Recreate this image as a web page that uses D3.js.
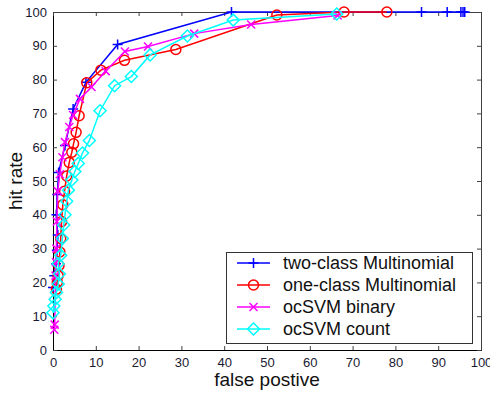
<!DOCTYPE html>
<html>
<head>
<meta charset="utf-8">
<script src="https://cdn.jsdelivr.net/npm/d3@7"></script>
<style>
  body { margin: 0; background: #fff; }
  text { font-family: Arial, "Liberation Sans", sans-serif; }
</style>
</head>
<body>
<div id="chart"></div>
<script>
// values (false positive %, hit rate %)
const blueFP = [0, 0.3, 0.7, 0.9, 1.1, 0.8, 1.0, 1.3, 2.8, 4.7, 7.7, 15.1, 41.7, 86.1, 92.1, 95.3, 95.8, 96.2]
const blueHR = [18.5, 22, 25.5, 29.5, 34, 40, 46, 52.5, 60.5, 71.3, 79.2, 90.4, 100, 100, 100, 100, 100, 100]

const redFP = [0.8, 1.0, 1.2, 1.4, 1.6, 1.8, 2.0, 2.3, 2.7, 3.2, 3.8, 4.4, 4.8, 5.4, 6.1, 7.9, 11.2, 16.7, 28.7, 52.3, 68, 78]
const redHR = [18, 20, 22, 25, 29, 33, 38, 43, 47, 51.5, 55.5, 58.5, 61, 64.4, 69.3, 79.1, 82.8, 85.7, 88.9, 99.1, 100, 100]

const magFP = [0.3, 0.4, 0.6, 0.7, 0.8, 0.9, 1.1, 1.6, 2.2, 2.8, 3.8, 4.7, 6.3, 9, 12.3, 16.8, 22.2, 33, 46.3, 66.5]
const magHR = [6, 7.5, 22, 26, 30, 38, 47, 52, 57, 61.5, 66, 69.5, 74.3, 77.8, 82.5, 88.3, 89.8, 93.6, 96.3, 99]

const cyanFP = [0, 0.2, 0.5, 0.8, 1.2, 1.5, 1.2, 1.8, 2.2, 2.5, 2.8, 3.2, 3.6, 4.4, 5.1, 5.9, 6.9, 8.5, 11, 14.4, 18.3, 22.7, 31.4, 42.1, 66.3]
const cyanHR = [11, 13, 15, 17, 19.5, 22.5, 25.5, 28, 33, 37, 40, 44, 47.3, 50.3, 52.8, 55.2, 58.3, 62, 70.8, 78.2, 80.9, 87.3, 92.9, 97.6, 99.4]

const seriesNames = ["two-class Multinomial", "one-class Multinomial", "ocSVM binary", "ocSVM count"]
const xTicks = [0, 10, 20, 30, 40, 50, 60, 70, 80, 90, 100]
const yTicks = [0, 10, 20, 30, 40, 50, 60, 70, 80, 90, 100]

const width = 490, height = 393
const margin = ({ top: 12, right: 9, bottom: 43, left: 53 })

const series = [
    { name: seriesNames[0], fp: blueFP, hr: blueHR, color: "#0000ff", marker: "plus" },
    { name: seriesNames[1], fp: redFP, hr: redHR, color: "#ff0000", marker: "circle" },
    { name: seriesNames[2], fp: magFP, hr: magHR, color: "#ff00ff", marker: "cross" },
    { name: seriesNames[3], fp: cyanFP, hr: cyanHR, color: "#00ffff", marker: "diamond" }
]

const svg = d3.select("#chart").append("svg")
    .attr("width", width)
    .attr("height", height)

const x = d3.scaleLinear().domain([0, 100]).range([margin.left, width - margin.right])
const y = d3.scaleLinear().domain([0, 100]).range([height - margin.bottom, margin.top])

// box with inward ticks, matlab style
svg.append("rect")
    .attr("x", x(0)).attr("y", y(100))
    .attr("width", x(100) - x(0)).attr("height", y(0) - y(100))
    .attr("fill", "none").attr("stroke", "#404040")
    .attr("shape-rendering", "crispEdges")

const xAxis = g => g
    .attr("transform", `translate(0,${y(0)})`)
    .call(d3.axisBottom(x).tickValues(xTicks).tickSize(-4).tickPadding(8).tickSizeOuter(0))
    .call(g => g.select(".domain").attr("stroke", "#000"))
    .call(g => g.selectAll("text").attr("font-size", 13).attr("fill", "#1a1a33"))

const yAxis = g => g
    .attr("transform", `translate(${x(0)},0)`)
    .call(d3.axisLeft(y).tickValues(yTicks).tickSize(-4).tickPadding(6).tickSizeOuter(0))
    .call(g => g.select(".domain").attr("stroke", "#000"))
    .call(g => g.selectAll("text").attr("font-size", 13).attr("fill", "#1a1a33"))

svg.append("g").call(xAxis)
svg.append("g").call(yAxis)
svg.append("g").attr("transform", `translate(0,${y(100)})`)
    .call(d3.axisTop(x).tickValues(xTicks).tickSize(-4).tickFormat("").tickSizeOuter(0))
    .call(g => g.select(".domain").remove())
svg.append("g").attr("transform", `translate(${x(100)},0)`)
    .call(d3.axisRight(y).tickValues(yTicks).tickSize(-4).tickFormat("").tickSizeOuter(0))
    .call(g => g.select(".domain").remove())
svg.selectAll(".tick line").attr("stroke", "#404040")

// axis titles
svg.append("text")
    .attr("x", (x(0) + x(100)) / 2).attr("y", 386)
    .attr("text-anchor", "middle").attr("font-size", 19).attr("fill", "#111")
    .text("false postive")
svg.append("text")
    .attr("transform", `translate(22,${(y(0) + y(100)) / 2}) rotate(-90)`)
    .attr("text-anchor", "middle").attr("font-size", 19).attr("fill", "#111")
    .text("hit rate")

const drawMarker = function (sel, type, color) {
    if (type === "plus") {
        sel.append("path").attr("d", "M-5,0H5M0,-5V5")
    } else if (type === "circle") {
        sel.append("circle").attr("r", 5)
    } else if (type === "cross") {
        sel.append("path").attr("d", "M-4,-4L4,4M-4,4L4,-4")
    } else {
        sel.append("path").attr("d", "M0,-6L6,0L0,6L-6,0Z")
    }
    sel.selectAll("*").attr("fill", "none").attr("stroke", color).attr("stroke-width", 1.5)
}

const line = d3.line().x(d => x(d[0])).y(d => y(d[1]))

series.forEach(s => {
    const pts = s.fp.map((v, i) => [v, s.hr[i]])
    const g = svg.append("g")
    g.append("path")
        .datum(pts)
        .attr("fill", "none")
        .attr("stroke", s.color)
        .attr("stroke-width", 1.5)
        .attr("d", line)
    g.selectAll(".m").data(pts).join("g")
        .attr("class", "m")
        .attr("transform", d => `translate(${x(d[0])},${y(d[1])})`)
        .each(function () { drawMarker(d3.select(this), s.marker, s.color) })
})

// legend
const lg = svg.append("g")
lg.append("rect")
    .attr("x", 226).attr("y", 252).attr("width", 246).attr("height", 91)
    .attr("fill", "#fff").attr("stroke", "#333")
    .attr("shape-rendering", "crispEdges")
series.forEach((s, i) => {
    const row = lg.append("g").attr("transform", `translate(0,${263 + i * 22})`)
    row.append("line").attr("x1", 237).attr("x2", 270)
        .attr("stroke", s.color).attr("stroke-width", 1.5)
    const m = row.append("g").attr("transform", "translate(253.5,0)")
    drawMarker(m, s.marker, s.color)
    row.append("text").attr("x", 283).attr("dy", "0.35em")
        .attr("font-size", 18).attr("fill", "#111")
        .text(s.name)
})
</script>
</body>
</html>
